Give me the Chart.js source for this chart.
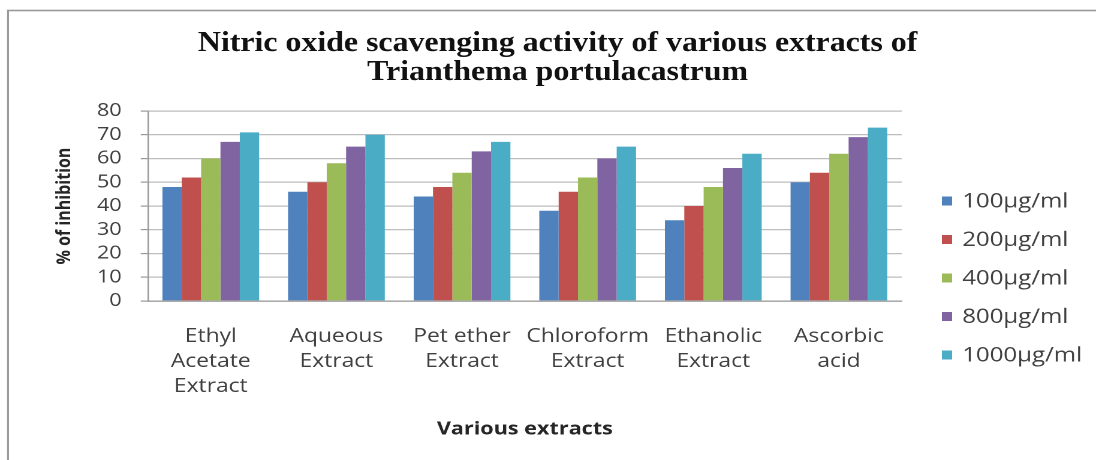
<!DOCTYPE html>
<html>
<head>
<meta charset="utf-8">
<script src="https://cdn.jsdelivr.net/npm/chart.js@4.4.1/dist/chart.umd.min.js"></script>
<style>
  html, body { margin: 0; padding: 0; background: #fff; overflow: hidden; }
  /* the figure is laid out on a 914px-wide canvas and widened to fill the 1096px page */
  #wrap { position: absolute; left: 0; top: 0; width: 914px; height: 460px;
          transform: scaleX(1.19912); transform-origin: 0 0; }
</style>
</head>
<body>
<div id="wrap"><canvas id="c" width="914" height="460"></canvas></div>
<script>
// Extracts (x categories, multi-line labels)
const categories = [
  ['Ethyl', 'Acetate', 'Extract'],
  ['Aqueous', 'Extract'],
  ['Pet ether', 'Extract'],
  ['Chloroform', 'Extract'],
  ['Ethanolic', 'Extract'],
  ['Ascorbic', 'acid']
];

// Concentration series names
const seriesNames = ['100µg/ml', '200µg/ml', '400µg/ml', '800µg/ml', '1000µg/ml'];

// % of inhibition per extract, one array per concentration
const conc100  = [48, 46, 44, 38, 34, 50];
const conc200  = [52, 50, 48, 46, 40, 54];
const conc400  = [60, 58, 54, 52, 48, 62];
const conc800  = [67, 65, 63, 60, 56, 69];
const conc1000 = [71, 70, 67, 65, 62, 73];

// Y axis ticks
const yMin = 0;
const yMax = 80;
const yStep = 10;

const chartTitle = ['Nitric oxide scavenging activity of various extracts of', 'Trianthema portulacastrum'];
const yTitle = '% of inhibition';
const xTitle = 'Various extracts';

const seriesValues = [conc100, conc200, conc400, conc800, conc1000];
const seriesColors = ['#4F81BD', '#C0504D', '#9BBB59', '#8064A2', '#4BACC6'];

const SANS = '"Open Sans", "Liberation Sans", sans-serif';

// outer frame of the figure
const framePlugin = {
  id: 'frame',
  beforeDraw(chart) {
    const ctx = chart.ctx;
    ctx.save();
    ctx.fillStyle = '#fff';
    ctx.fillRect(0, 0, chart.width, chart.height);
    ctx.strokeStyle = '#9a9a9a';
    ctx.lineWidth = 1.6;
    ctx.strokeRect(6.7, 10.5, chart.width + 50, chart.height + 50);
    ctx.restore();
  }
};

// two-line serif heading, condensed to a fixed width
const headingPlugin = {
  id: 'heading',
  afterDraw(chart) {
    const ctx = chart.ctx;
    ctx.save();
    ctx.fillStyle = '#111';
    ctx.textAlign = 'center';
    ctx.textBaseline = 'alphabetic';
    ctx.font = 'bold 28px "Liberation Serif", "Times New Roman", serif';
    const sx = 600 / ctx.measureText(chartTitle[0]).width;
    chartTitle.forEach((line, i) => {
      ctx.save();
      ctx.translate(465, 51 + 29 * i);
      ctx.scale(sx, 1);
      ctx.fillText(line, 0, 0);
      ctx.restore();
    });
    ctx.restore();
  }
};

// vertical legend on the right
const legendPlugin = {
  id: 'sideLegend',
  afterDraw(chart) {
    const ctx = chart.ctx;
    ctx.save();
    ctx.font = '20px ' + SANS;
    ctx.textBaseline = 'middle';
    ctx.textAlign = 'left';
    chart.data.datasets.forEach((ds, i) => {
      const y = 201 + i * 38.5;
      ctx.fillStyle = ds.backgroundColor;
      ctx.fillRect(785.5, y - 4.5, 8.5, 9);
      ctx.fillStyle = '#404040';
      ctx.fillText(ds.label, 802.5, y + 1);
    });
    ctx.restore();
  }
};

new Chart(document.getElementById('c'), {
  type: 'bar',
  data: {
    labels: categories,
    datasets: seriesNames.map((name, i) => ({
      label: name,
      data: seriesValues[i],
      backgroundColor: seriesColors[i],
      borderWidth: 0,
      categoryPercentage: 0.77,
      barPercentage: 1.0
    }))
  },
  options: {
    responsive: false,
    animation: false,
    devicePixelRatio: 2,
    layout: { padding: { top: 111, right: 162, bottom: 0, left: 0 } },
    plugins: {
      legend: { display: false },
      title: { display: false },
      tooltip: { enabled: false }
    },
    scales: {
      x: {
        afterFit(scale) { scale.height = 159; },
        grid: { display: false, drawTicks: false, tickLength: 0 },
        border: { display: true, color: '#9a9a9a', width: 1.2 },
        ticks: {
          color: '#404040',
          font: { family: SANS, size: 19, lineHeight: 1.32 },
          padding: 23,
          maxRotation: 0,
          autoSkip: false
        },
        title: {
          display: true,
          text: xTitle,
          color: '#262626',
          font: { family: SANS, size: 18, weight: 'bold', lineHeight: 1.2 },
          padding: { top: 0, bottom: 20 }
        }
      },
      y: {
        min: yMin,
        max: yMax,
        afterFit(scale) { scale.width = 123.4; },
        grid: { color: '#bdbdbd', lineWidth: 1.2, drawTicks: true, tickLength: 6, tickColor: '#9a9a9a' },
        border: { display: true, color: '#9a9a9a', width: 1.2 },
        ticks: {
          stepSize: yStep,
          autoSkip: false,
          color: '#404040',
          font: { family: SANS, size: 18, lineHeight: 1.0 },
          padding: 16
        },
        title: {
          display: true,
          text: yTitle,
          color: '#262626',
          font: { family: SANS, size: 16, weight: 'bold', lineHeight: 1.2 },
          padding: { top: 44.5, bottom: 0 }
        }
      }
    }
  },
  plugins: [framePlugin, headingPlugin, legendPlugin]
});
</script>
</body>
</html>
